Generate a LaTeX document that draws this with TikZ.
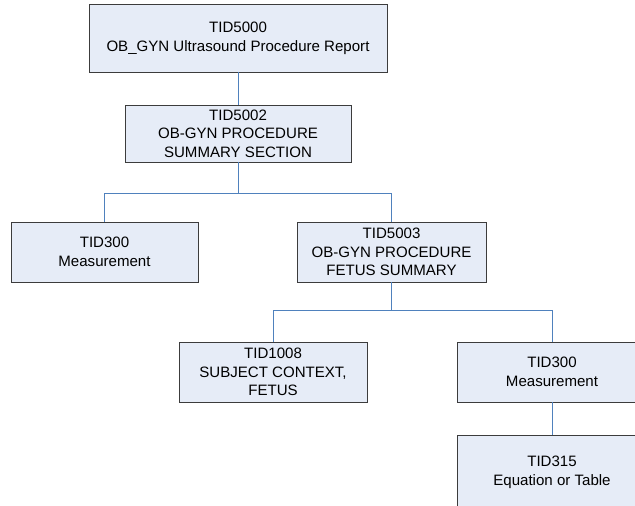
\documentclass[tikz,border=0pt]{standalone}
\usepackage{fontspec}
\setmainfont{Liberation Sans}
\definecolor{boxfill}{RGB}{230,236,247}
\definecolor{boxline}{RGB}{60,60,60}
\definecolor{linkcol}{RGB}{79,129,189}
\begin{document}
\begin{tikzpicture}[x=0.75pt,y=-0.75pt,
  tbox/.style={draw=boxline,fill=boxfill,line width=0.65pt,rectangle,inner sep=0pt,outer sep=0pt,
    align=center,font=\fontsize{11.3}{14}\selectfont},
  link/.style={draw=linkcol,line width=0.75pt}]
\useasboundingbox (0,0) rectangle (635,506);
\clip (0,0) rectangle (635,506);
\node[tbox,minimum width=298*0.75pt,minimum height=68*0.75pt] (b1) at (238,38) {TID5000\\OB\_GYN Ultrasound Procedure Report};
\node[tbox,minimum width=226*0.75pt,minimum height=57*0.75pt] (b2) at (238,133.5) {TID5002\\OB-GYN PROCEDURE\\SUMMARY SECTION};
\node[tbox,minimum width=187*0.75pt,minimum height=60*0.75pt] (b3) at (104.5,252) {TID300\\Measurement};
\node[tbox,minimum width=189*0.75pt,minimum height=60*0.75pt] (b4) at (391.5,252) {TID5003\\OB-GYN PROCEDURE\\FETUS SUMMARY};
\node[tbox,minimum width=188*0.75pt,minimum height=60*0.75pt] (b5) at (273,372) {TID1008\\SUBJECT CONTEXT,\\FETUS};
\node[tbox,minimum width=190*0.75pt,minimum height=60*0.75pt] (b6) at (552,372) {TID300\\Measurement};
\node[tbox,minimum width=190*0.75pt,minimum height=74*0.75pt] (b7) at (552,472) {TID315\\Equation or Table};
\coordinate (j1) at (238,193.5);
\coordinate (j2) at (391.5,310);
\draw[link] (b1.south) -- (b2.north);
\draw[link] (b2.south) -- (j1);
\draw[link] (j1) -| (b3.north);
\draw[link] (j1) -| (b4.north);
\draw[link] (b4.south) -- (j2);
\draw[link] (j2) -| (b5.north);
\draw[link] (j2) -| (b6.north);
\draw[link] (b6.south) -- (b7.north);
\end{tikzpicture}
\end{document}
